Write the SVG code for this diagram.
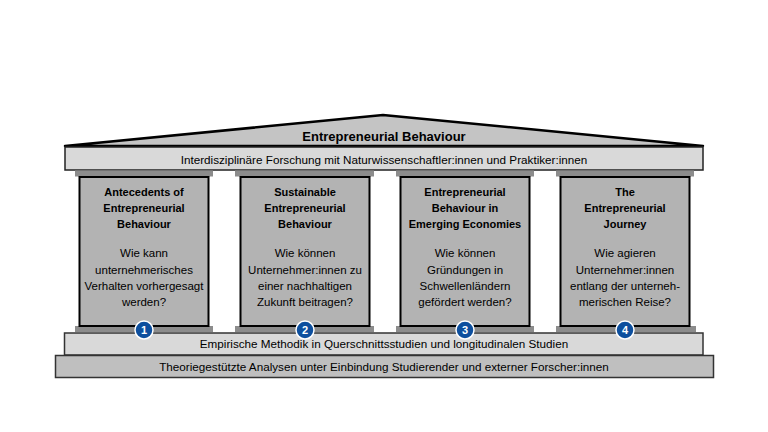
<svg xmlns="http://www.w3.org/2000/svg" width="768" height="432" viewBox="0 0 768 432">
<style>
text{font-family:"Liberation Sans",Arial,sans-serif;fill:#000;text-anchor:middle}
.t{font-size:11px;font-weight:bold}
.q{font-size:11.5px}
.band{font-size:11.7px}
.col{fill:#b3b3b3;stroke:#000;stroke-width:2}
.cap{fill:#8c8c8c}
.num{fill:#0d4f9e;stroke:#fff;stroke-width:1.5}
.nt{font-size:11px;font-weight:bold;fill:#fff}
</style>
<rect width="768" height="432" fill="#fff"/>
<g id="roof">
<polygon points="65,146 383,115 703,146" fill="#c4c4c4" stroke="#000" stroke-width="2.5" stroke-linejoin="round"/>
<text x="384" y="141" style="font-size:13px;font-weight:bold">Entrepreneurial Behaviour</text>
</g>
<g id="band1">
<rect x="65" y="147" width="638" height="23" fill="#d9d9d9" stroke="#222" stroke-width="1.5"/>
<text class="band" x="384" y="164">Interdisziplinäre Forschung mit Naturwissenschaftler:innen und Praktiker:innen</text>
</g>
<g id="pillar1">
<rect class="cap" x="75" y="170.5" width="138" height="6"/>
<rect class="cap" x="75" y="326" width="138" height="6"/>
<rect class="col" x="79.5" y="177" width="129" height="149"/>
<text class="t" x="144" y="196">Antecedents of</text>
<text class="t" x="144" y="212">Entrepreneurial</text>
<text class="t" x="144" y="228">Behaviour</text>
<text class="q" x="144" y="257">Wie kann</text>
<text class="q" x="144" y="274">unternehmerisches</text>
<text class="q" x="144" y="290">Verhalten vorhergesagt</text>
<text class="q" x="144" y="306">werden?</text>
</g>
<g id="pillar2">
<rect class="cap" x="235" y="170.5" width="139" height="6"/>
<rect class="cap" x="235" y="326" width="139" height="6"/>
<rect class="col" x="240.5" y="177" width="129" height="149"/>
<text class="t" x="305" y="196">Sustainable</text>
<text class="t" x="305" y="212">Entrepreneurial</text>
<text class="t" x="305" y="228">Behaviour</text>
<text class="q" x="305" y="257">Wie können</text>
<text class="q" x="305" y="274">Unternehmer:innen zu</text>
<text class="q" x="305" y="290">einer nachhaltigen</text>
<text class="q" x="305" y="306">Zukunft beitragen?</text>
</g>
<g id="pillar3">
<rect class="cap" x="396" y="170.5" width="138" height="6"/>
<rect class="cap" x="396" y="326" width="138" height="6"/>
<rect class="col" x="400.5" y="177" width="129" height="149"/>
<text class="t" x="465" y="196">Entrepreneurial</text>
<text class="t" x="465" y="212">Behaviour in</text>
<text class="t" x="465" y="228">Emerging Economies</text>
<text class="q" x="465" y="257">Wie können</text>
<text class="q" x="465" y="274">Gründungen in</text>
<text class="q" x="465" y="290">Schwellenländern</text>
<text class="q" x="465" y="306">gefördert werden?</text>
</g>
<g id="pillar4">
<rect class="cap" x="556" y="170.5" width="138" height="6"/>
<rect class="cap" x="556" y="326" width="140" height="6"/>
<rect class="col" x="560.5" y="177" width="129" height="149"/>
<text class="t" x="625" y="196">The</text>
<text class="t" x="625" y="212">Entrepreneurial</text>
<text class="t" x="625" y="228">Journey</text>
<text class="q" x="625" y="257">Wie agieren</text>
<text class="q" x="625" y="274">Unternehmer:innen</text>
<text class="q" x="625" y="290">entlang der unterneh-</text>
<text class="q" x="625" y="306">merischen Reise?</text>
</g>
<g id="band2">
<rect x="64.5" y="333" width="638.5" height="22" fill="#d9d9d9" stroke="#333" stroke-width="1.5"/>
<text class="band" x="384" y="348">Empirische Methodik in Querschnittsstudien und longitudinalen Studien</text>
</g>
<g id="band3">
<rect x="55.5" y="355.5" width="658" height="22" fill="#bfbfbf" stroke="#333" stroke-width="1.5"/>
<text class="band" x="384" y="371">Theoriegestützte Analysen unter Einbindung Studierender und externer Forscher:innen</text>
</g>
<g id="numbers">
<circle class="num" cx="144" cy="330" r="9"/>
<text class="nt" x="144" y="334">1</text>
<circle class="num" cx="305" cy="330" r="9"/>
<text class="nt" x="305" y="334">2</text>
<circle class="num" cx="465" cy="330" r="9"/>
<text class="nt" x="465" y="334">3</text>
<circle class="num" cx="625" cy="330" r="9"/>
<text class="nt" x="625" y="334">4</text>
</g>
<g id="connectors"></g>
</svg>
